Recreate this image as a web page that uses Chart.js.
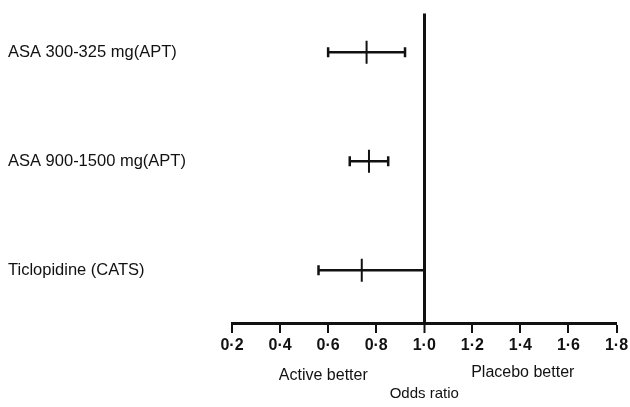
<!DOCTYPE html>
<html>
<head>
<meta charset="utf-8">
<script src="https://cdn.jsdelivr.net/npm/chart.js@4"></script>
<style>
  body { margin: 0; background: #fff; }
  #wrap { width: 630px; height: 407px; }
</style>
</head>
<body>
<div id="wrap"><canvas id="chart"></canvas></div>
<script>
// rows from top to bottom
let trials = ["ASA 300-325 mg(APT)", "ASA 900-1500 mg(APT)", "Ticlopidine (CATS)"];
let oddsRatio = [0.76, 0.77, 0.74];
let lowerCI = [0.60, 0.69, 0.56];
let upperCI = [0.92, 0.85, 1.00];
let xTicks = [0.2, 0.4, 0.6, 0.8, 1.0, 1.2, 1.4, 1.6, 1.8];
let sideNotes = [
  { text: "Active better", at: 0.58, dy: 53 },
  { text: "Placebo better", at: 1.41, dy: 50 }
];

let font = "'Liberation Sans', Arial, sans-serif";
let ink = "#111";

let rangeSets = trials.map((name, i) => ({
  label: name,
  data: [{ x: lowerCI[i], y: i + 1 }, { x: upperCI[i], y: i + 1 }],
  showLine: true,
  borderColor: ink,
  borderWidth: 2.5,
  pointStyle: "line",
  pointRotation: 90,
  pointRadius: 5,
  pointBorderWidth: 2.5,
  pointBorderColor: ink
}));

let pointSet = {
  label: "odds ratio",
  data: trials.map((_, i) => ({ x: oddsRatio[i], y: i + 1 })),
  pointStyle: "line",
  pointRotation: 90,
  pointRadius: 11.5,
  pointBorderWidth: 2,
  pointBorderColor: ink
};

let notes = {
  id: "notes",
  afterDraw(chart) {
    let ctx = chart.ctx;
    let x = chart.scales.x;
    ctx.save();
    ctx.fillStyle = ink;
    ctx.font = "16px " + font;
    ctx.textAlign = "center";
    ctx.textBaseline = "middle";
    sideNotes.forEach(n => {
      ctx.fillText(n.text, x.getPixelForValue(n.at), x.top + n.dy);
    });
    ctx.restore();
  }
};

let isOne = v => Math.abs(v - 1) < 1e-6;

new Chart(document.getElementById("chart"), {
  type: "scatter",
  data: { datasets: [...rangeSets, pointSet] },
  plugins: [notes],
  options: {
    responsive: true,
    maintainAspectRatio: false,
    animation: false,
    layout: { padding: { left: 8, top: 12, right: 0, bottom: 0 } },
    plugins: { legend: { display: false }, tooltip: { enabled: false } },
    scales: {
      x: {
        type: "linear",
        min: 0.2,
        max: 1.8,
        afterBuildTicks: s => { s.ticks = xTicks.map(v => ({ value: v })); },
        afterFit: s => { s.height = 84; s.paddingRight = 10; s.paddingLeft = 0; },
        border: { display: true, color: ink, width: 3 },
        grid: {
          color: c => c.tick && isOne(c.tick.value) ? ink : "transparent",
          lineWidth: c => c.tick && isOne(c.tick.value) ? 3 : 0,
          drawTicks: true,
          tickLength: 10,
          tickColor: ink,
          tickWidth: 2
        },
        ticks: {
          color: ink,
          padding: 3,
          maxRotation: 0,
          font: { family: font, size: 16, weight: "bold" },
          callback: v => v.toFixed(1).replace(".", "·")
        },
        title: {
          display: true,
          text: "Odds ratio",
          color: ink,
          padding: { top: 0, bottom: 4 },
          font: { family: font, size: 15 }
        }
      },
      y: {
        type: "linear",
        reverse: true,
        min: 0.644,
        max: 3.484,
        afterBuildTicks: s => { s.ticks = trials.map((_, i) => ({ value: i + 1 })); },
        afterFit: s => { s.width = 224; },
        border: { display: false },
        grid: { display: false },
        ticks: {
          color: ink,
          crossAlign: "far",
          padding: 0,
          font: { family: font, size: 16.5 },
          callback: v => trials[v - 1] || ""
        }
      }
    }
  }
});
</script>
</body>
</html>
